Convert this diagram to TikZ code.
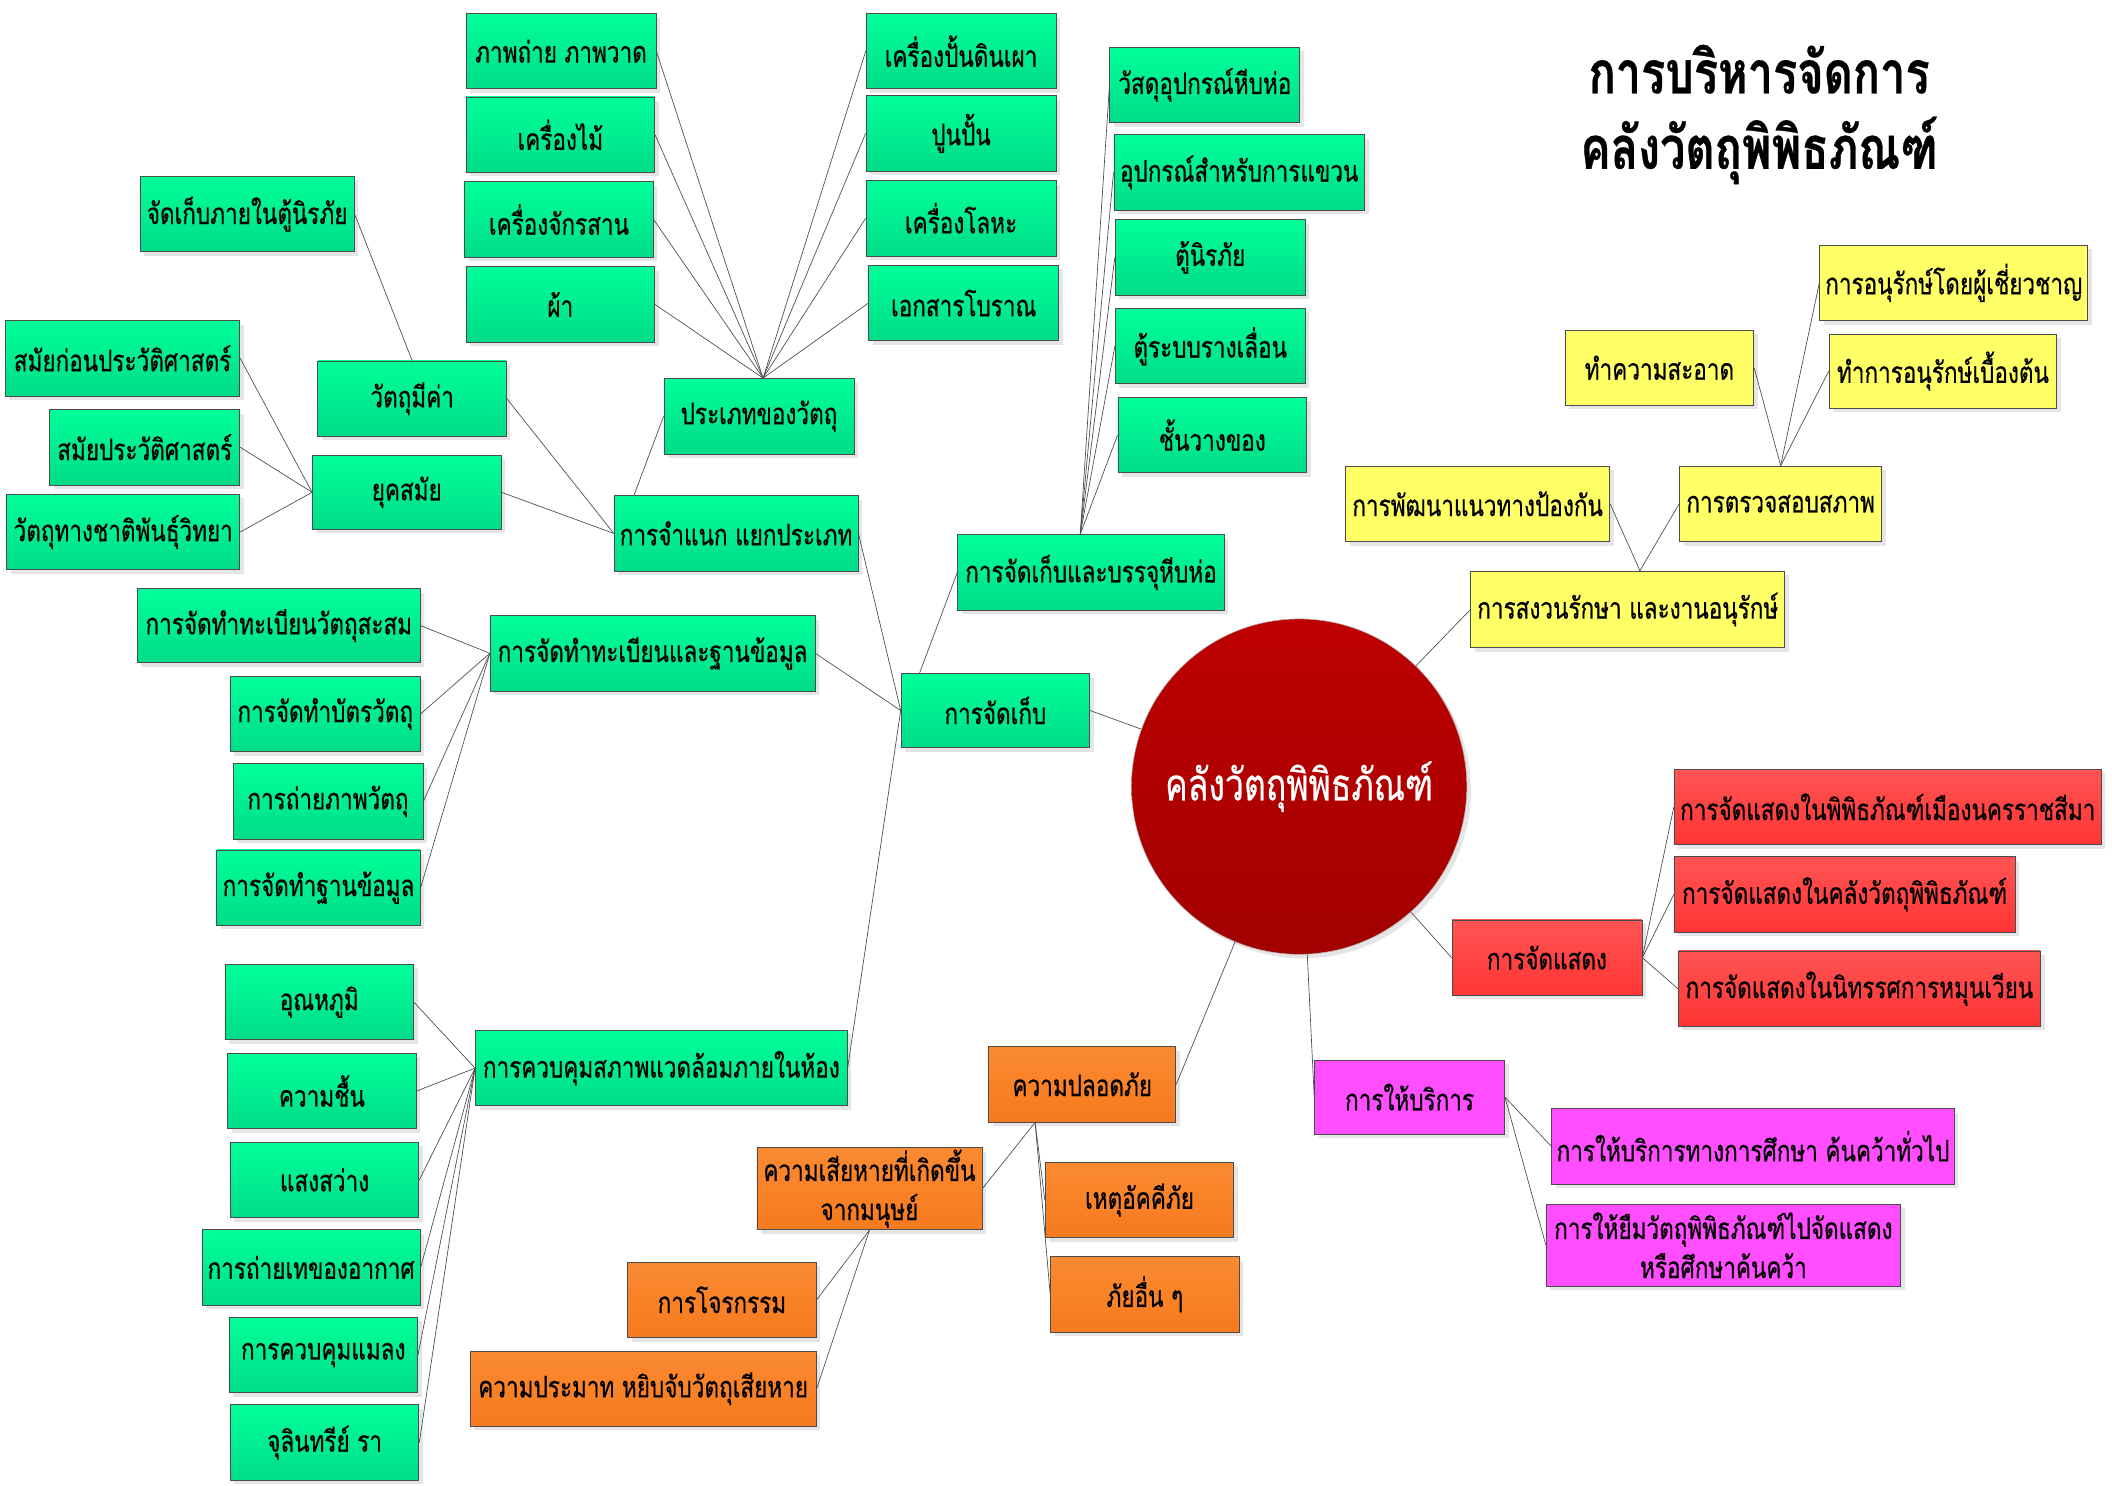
\documentclass[tikz,border=0pt]{standalone}
\usepackage{fontspec}
\newfontfamily\thai[Script=Thai,FakeStretch=0.76,FakeBold=0.5]{Loma}
\usetikzlibrary{shadows,calc}
\definecolor{gtop}{HTML}{00FF99}
\definecolor{gbot}{HTML}{00DC88}
\definecolor{yel}{HTML}{FFFF66}
\definecolor{rtop}{HTML}{FF5454}
\definecolor{rbot}{HTML}{FF3434}
\definecolor{mag}{HTML}{FF4DFF}
\definecolor{otop}{HTML}{FA8A32}
\definecolor{obot}{HTML}{F77A1E}
\definecolor{hubtop}{HTML}{BE0000}
\definecolor{hubbot}{HTML}{A20000}
\tikzset{
  box/.style={draw=black!70, line width=0.6pt, inner xsep=2pt, inner ysep=0pt, align=center,
    font=\thai\fontsize{22}{29}\selectfont,
    drop shadow={shadow xshift=3pt, shadow yshift=-3pt, fill=black!20, opacity=0.5}},
  gbox/.style={box, top color=gtop, bottom color=gbot},
  ybox/.style={box, fill=yel},
  rbox/.style={box, top color=rtop, bottom color=rbot},
  mbox/.style={box, fill=mag},
  obox/.style={box, top color=otop, bottom color=obot},
  link/.style={draw=black!70, line width=0.5pt},
}
\newcommand\mybox[7]{\node[#1, minimum width={(#5-#3)*1pt}, minimum height={(#6-#4)*1pt}] (#2) at ({(#3+#5)/2},{(#4+#6)/2}) {#7};}
\begin{document}
\begin{tikzpicture}[x=1pt,y=-1pt]
\fill[white] (0,0) rectangle (1568,1103);
\useasboundingbox (0,0) rectangle (1568,1103);

% title
\node[font=\thai\bfseries\fontsize{44}{56}\selectfont, align=center] (title) at (1306,85) {การบริหารจัดการ\\คลังวัตถุพิพิธภัณฑ์};

% hub
\node[circle, minimum size=249pt, inner sep=0pt, top color=hubtop, bottom color=hubbot, draw=black!30,
  drop shadow={shadow xshift=3pt, shadow yshift=-3pt, fill=black!20, opacity=0.5},
  text=white, font=\thai\fontsize{33}{40}\selectfont] (hub) at (964.5,584) {คลังวัตถุพิพิธภัณฑ์};

% green: types
\mybox{gbox}{gphoto}{346}{10}{487}{66}{ภาพถ่าย ภาพวาด}
\mybox{gbox}{gwood}{346}{72}{486}{128}{เครื่องไม้}
\mybox{gbox}{gwicker}{345}{135}{485}{191}{เครื่องจักรสาน}
\mybox{gbox}{gcloth}{346}{198}{486}{254}{ผ้า}
\mybox{gbox}{gceramic}{643}{10}{784}{66}{เครื่องปั้นดินเผา}
\mybox{gbox}{gstucco}{643}{71}{784}{127}{ปูนปั้น}
\mybox{gbox}{gmetal}{643}{134}{784}{190}{เครื่องโลหะ}
\mybox{gbox}{gmanu}{645}{197}{786}{253}{เอกสารโบราณ}
\mybox{gbox}{gtypes}{493}{281}{634}{337}{ประเภทของวัตถุ}
\mybox{gbox}{gsafe}{104}{131}{263}{187}{จัดเก็บภายในตู้นิรภัย}
\mybox{gbox}{gvalu}{236}{268}{376}{324}{วัตถุมีค่า}
\mybox{gbox}{gprehist}{4}{238}{178}{294}{สมัยก่อนประวัติศาสตร์}
\mybox{gbox}{ghist}{37}{304}{178}{360}{สมัยประวัติศาสตร์}
\mybox{gbox}{gethno}{5}{367}{178}{423}{วัตถุทางชาติพันธุ์วิทยา}
\mybox{gbox}{gera}{232}{338}{372}{393}{ยุคสมัย}
\mybox{gbox}{gclass}{456}{368}{637}{424}{การจำแนก แยกประเภท}
% registration
\mybox{gbox}{greg}{364}{457}{605}{513}{การจัดทำทะเบียนและฐานข้อมูล}
\mybox{gbox}{gregA}{102}{437}{312}{492}{การจัดทำทะเบียนวัตถุสะสม}
\mybox{gbox}{gregB}{171}{502}{312}{558}{การจัดทำบัตรวัตถุ}
\mybox{gbox}{gregC}{173}{567}{314}{623}{การถ่ายภาพวัตถุ}
\mybox{gbox}{gregD}{161}{631}{312}{687}{การจัดทำฐานข้อมูล}
% storage
\mybox{gbox}{gstore}{669}{500}{809}{555}{การจัดเก็บ}
\mybox{gbox}{gpack}{711}{397}{909}{453}{การจัดเก็บและบรรจุหีบห่อ}
\mybox{gbox}{gpkA}{824}{35}{965}{91}{วัสดุอุปกรณ์หีบห่อ}
\mybox{gbox}{gpkB}{827}{100}{1013}{156}{อุปกรณ์สำหรับการแขวน}
\mybox{gbox}{gpkC}{828}{163}{969}{219}{ตู้นิรภัย}
\mybox{gbox}{gpkD}{828}{229}{969}{285}{ตู้ระบบรางเลื่อน}
\mybox{gbox}{gpkE}{830}{295}{970}{351}{ชั้นวางของ}
% environment
\mybox{gbox}{genv}{353}{765}{629}{821}{การควบคุมสภาพแวดล้อมภายในห้อง}
\mybox{gbox}{genvA}{167}{716}{307}{772}{อุณหภูมิ}
\mybox{gbox}{genvB}{169}{782}{309}{838}{ความชื้น}
\mybox{gbox}{genvC}{171}{848}{311}{904}{แสงสว่าง}
\mybox{gbox}{genvD}{150}{913}{312}{969}{การถ่ายเทของอากาศ}
\mybox{gbox}{genvE}{170}{978}{310}{1034}{การควบคุมแมลง}
\mybox{gbox}{genvF}{171}{1043}{311}{1099}{จุลินทรีย์ รา}

% yellow
\mybox{ybox}{ycons}{1092}{424}{1325}{481}{การสงวนรักษา และงานอนุรักษ์}
\mybox{ybox}{ydev}{999}{346}{1195}{402}{การพัฒนาแนวทางป้องกัน}
\mybox{ybox}{ycheck}{1247}{346}{1397}{402}{การตรวจสอบสภาพ}
\mybox{ybox}{yclean}{1162}{245}{1302}{301}{ทำความสะอาด}
\mybox{ybox}{yexpert}{1351}{182}{1550}{238}{การอนุรักษ์โดยผู้เชี่ยวชาญ}
\mybox{ybox}{ybasic}{1358}{248}{1527}{303}{ทำการอนุรักษ์เบื้องต้น}

% red
\mybox{rbox}{rshow}{1078}{683}{1219}{739}{การจัดแสดง}
\mybox{rbox}{rshowA}{1243}{571}{1560}{627}{การจัดแสดงในพิพิธภัณฑ์เมืองนครราชสีมา}
\mybox{rbox}{rshowB}{1243}{636}{1496}{692}{การจัดแสดงในคลังวัตถุพิพิธภัณฑ์}
\mybox{rbox}{rshowC}{1246}{706}{1515}{762}{การจัดแสดงในนิทรรศการหมุนเวียน}

% magenta
\mybox{mbox}{mserv}{976}{787}{1117}{842}{การให้บริการ}
\mybox{mbox}{mservA}{1152}{823}{1451}{879}{การให้บริการทางการศึกษา ค้นคว้าทั่วไป}
\mybox{mbox}{mservB}{1148}{894}{1411}{955}{การให้ยืมวัตถุพิพิธภัณฑ์ไปจัดแสดง\\หรือศึกษาค้นคว้า}

% orange
\mybox{obox}{osafety}{734}{777}{873}{833}{ความปลอดภัย}
\mybox{obox}{ohuman}{562}{852}{729}{913}{ความเสียหายที่เกิดขึ้น\\จากมนุษย์}
\mybox{obox}{ofire}{776}{863}{916}{919}{เหตุอัคคีภัย}
\mybox{obox}{oother}{780}{933}{920}{989}{ภัยอื่น ๆ}
\mybox{obox}{otheft}{466}{937}{606}{993}{การโจรกรรม}
\mybox{obox}{ocareless}{349}{1003}{606}{1059}{ความประมาท หยิบจับวัตถุเสียหาย}

% connectors
\coordinate (ctypes) at ([xshift=3pt]gtypes.north);
\foreach \n in {gphoto,gwood,gwicker,gcloth} \draw[link] (\n.east) -- (ctypes);
\foreach \n in {gceramic,gstucco,gmetal,gmanu} \draw[link] (\n.west) -- (ctypes);
\draw[link] (gsafe.east) -- (gvalu.north);
\foreach \n in {gprehist,ghist,gethno} \draw[link] (\n.east) -- (gera.west);
\draw[link] (gvalu.east) -- (gclass.west);
\draw[link] (gera.east) -- (gclass.west);
\draw[link] (gtypes.west) -- ([xshift=15pt]gclass.north west);
\foreach \n in {gregA,gregB,gregC,gregD} \draw[link] (\n.east) -- (greg.west);
\draw[link] (gclass.east) -- (gstore.west);
\draw[link] (greg.east) -- (gstore.west);
\draw[link] (genv.east) -- (gstore.west);
\draw[link] ([xshift=14pt]gstore.north west) -- (gpack.west);
\coordinate (cpack) at ([xshift=-8pt]gpack.north);
\foreach \n in {gpkA,gpkB,gpkC,gpkD,gpkE} \draw[link] (\n.west) -- (cpack);
\draw[link] (gstore.east) -- (hub);
\foreach \n in {genvA,genvB,genvC,genvD,genvE,genvF} \draw[link] (\n.east) -- (genv.west);

\draw[link] (hub) -- (ycons.west);
\coordinate (ccons) at ([xshift=9pt]ycons.north);
\draw[link] (ydev.east) -- (ccons);
\draw[link] (ycheck.west) -- (ccons);
\draw[link] (yclean.east) -- (ycheck.north);
\draw[link] (yexpert.west) -- (ycheck.north);
\draw[link] (ybasic.west) -- (ycheck.north);

\draw[link] (hub) -- (rshow.west);
\foreach \n in {rshowA,rshowB,rshowC} \draw[link] (rshow.east) -- (\n.west);

\draw[link] (hub) -- (mserv.west);
\draw[link] (mserv.east) -- (mservA.west);
\draw[link] (mserv.east) -- (mservB.west);

\draw[link] (hub) -- (osafety.east);
\coordinate (csafe) at ([xshift=-35pt]osafety.south);
\draw[link] (csafe) -- (ohuman.east);
\draw[link] (csafe) -- (ofire.west);
\draw[link] (csafe) -- (oother.west);
\draw[link] (ohuman.south) -- (otheft.east);
\draw[link] (ohuman.south) -- (ocareless.east);
\end{tikzpicture}
\end{document}
